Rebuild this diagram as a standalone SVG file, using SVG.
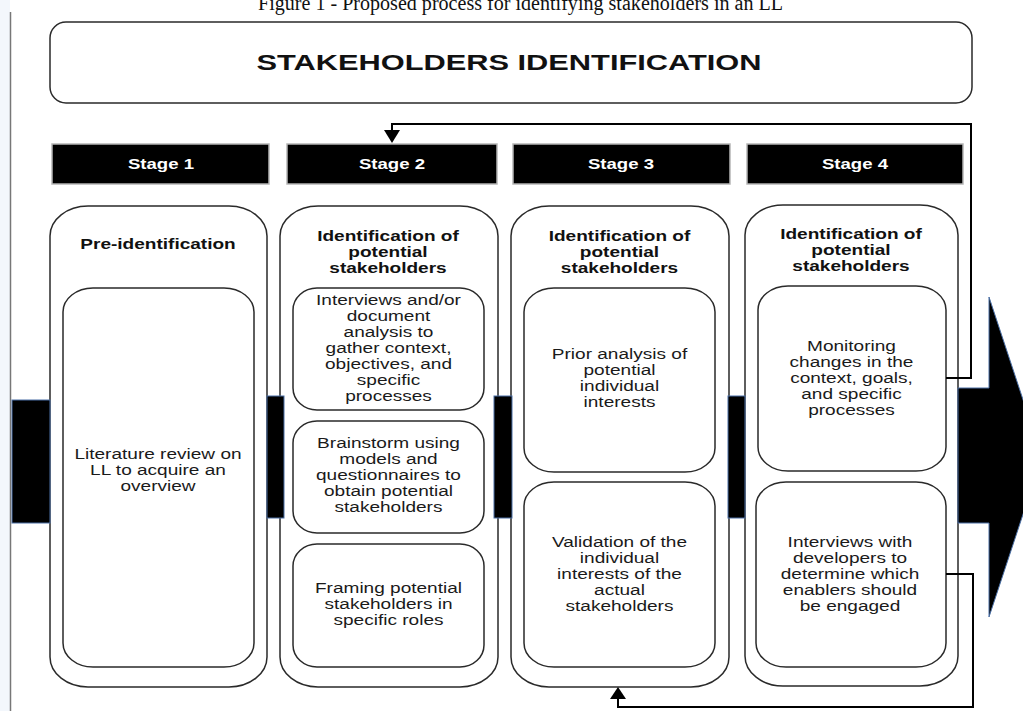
<svg xmlns="http://www.w3.org/2000/svg" width="1023" height="711" viewBox="0 0 1023 711">
  <style>
    text { font-family: "Liberation Sans", Arial, sans-serif; text-anchor: middle; }
    .cap { font-family: "Liberation Serif", "Times New Roman", serif; font-size: 20px; fill: #111; text-anchor: start; }
    .title { font-size: 22px; font-weight: bold; fill: #111; }
    .st { font-size: 15px; font-weight: bold; fill: #fff; }
    .h { font-size: 15px; font-weight: bold; fill: #111; }
    .b { font-size: 15px; fill: #1a1a1a; }
    .col { fill: #fff; stroke: #2a2a2a; stroke-width: 1.5; }
    .box { fill: #fff; stroke: #2a2a2a; stroke-width: 1.5; }
    .stage { fill: #000; stroke: #b5b5b5; stroke-width: 1.5; }
    .band { fill: #000; stroke: #4a6fa5; stroke-width: 1; }
    .link { fill: none; stroke: #000; stroke-width: 2; }
    .tip { fill: #000; }
  </style>

  <!-- page background and margin rule -->
  <rect x="0" y="0" width="1023" height="711" fill="#fff"/>
  <rect x="0" y="0" width="10" height="711" fill="#f3f7fc"/>
  <line x1="10.5" y1="12" x2="10.5" y2="711" stroke="#777" stroke-width="1.5"/>

  <!-- figure caption (partly above the page edge) -->
  <text class="cap" x="258" y="10" textLength="525" lengthAdjust="spacingAndGlyphs">Figure 1 - Proposed process for identifying stakeholders in an LL</text>

  <!-- header -->
  <g id="header">
    <rect x="50" y="22" width="922" height="81" rx="16" ry="16" class="box"/>
    <text class="title" x="509" y="70" textLength="505" lengthAdjust="spacingAndGlyphs">STAKEHOLDERS IDENTIFICATION</text>
  </g>

  <!-- stage labels -->
  <g id="stage1">
    <rect class="stage" x="52" y="144" width="217" height="40"/>
    <g transform="translate(161 0) scale(1.24 1)"><text class="st" x="0" y="169">Stage 1</text></g>
  </g>
  <g id="stage2">
    <rect class="stage" x="287" y="144" width="210" height="40"/>
    <g transform="translate(392 0) scale(1.24 1)"><text class="st" x="0" y="169">Stage 2</text></g>
  </g>
  <g id="stage3">
    <rect class="stage" x="513" y="144" width="217" height="40"/>
    <g transform="translate(621 0) scale(1.24 1)"><text class="st" x="0" y="169">Stage 3</text></g>
  </g>
  <g id="stage4">
    <rect class="stage" x="747" y="144" width="216" height="40"/>
    <g transform="translate(855 0) scale(1.24 1)"><text class="st" x="0" y="169">Stage 4</text></g>
  </g>

  <!-- column 1 -->
  <g id="col1">
    <rect class="col" x="50" y="206" width="217" height="481" rx="38" ry="30"/>
    <g transform="translate(158 0) scale(1.27 1)">
      <text class="h" x="0" y="249">Pre-identification</text>
    </g>
    <g id="col1-review">
      <rect class="box" x="63" y="288" width="191" height="379" rx="30" ry="24"/>
      <g transform="translate(158 0) scale(1.27 1)">
        <text class="b" x="0" y="459">Literature review on</text>
        <text class="b" x="0" y="475">LL to acquire an</text>
        <text class="b" x="0" y="491">overview</text>
      </g>
    </g>
  </g>

  <!-- column 2 -->
  <g id="col2">
    <rect class="col" x="280" y="206" width="218" height="481" rx="38" ry="30"/>
    <g transform="translate(388 0) scale(1.27 1)">
      <text class="h" x="0" y="241">Identification of</text>
      <text class="h" x="0" y="257">potential</text>
      <text class="h" x="0" y="273">stakeholders</text>
    </g>
    <g id="col2-interviews">
      <rect class="box" x="293" y="288" width="191" height="122" rx="24" ry="22"/>
      <g transform="translate(388.5 0) scale(1.27 1)">
        <text class="b" x="0" y="305">Interviews and/or</text>
        <text class="b" x="0" y="321">document</text>
        <text class="b" x="0" y="337">analysis to</text>
        <text class="b" x="0" y="353">gather context,</text>
        <text class="b" x="0" y="369">objectives, and</text>
        <text class="b" x="0" y="385">specific</text>
        <text class="b" x="0" y="401">processes</text>
      </g>
    </g>
    <g id="col2-brainstorm">
      <rect class="box" x="293" y="421" width="191" height="112" rx="24" ry="22"/>
      <g transform="translate(388.5 0) scale(1.27 1)">
        <text class="b" x="0" y="448">Brainstorm using</text>
        <text class="b" x="0" y="464">models and</text>
        <text class="b" x="0" y="480">questionnaires to</text>
        <text class="b" x="0" y="496">obtain potential</text>
        <text class="b" x="0" y="512">stakeholders</text>
      </g>
    </g>
    <g id="col2-framing">
      <rect class="box" x="293" y="544" width="191" height="123" rx="24" ry="22"/>
      <g transform="translate(388.5 0) scale(1.27 1)">
        <text class="b" x="0" y="593">Framing potential</text>
        <text class="b" x="0" y="609">stakeholders in</text>
        <text class="b" x="0" y="625">specific roles</text>
      </g>
    </g>
  </g>

  <!-- column 3 -->
  <g id="col3">
    <rect class="col" x="511" y="206" width="218" height="481" rx="38" ry="30"/>
    <g transform="translate(619.5 0) scale(1.27 1)">
      <text class="h" x="0" y="241">Identification of</text>
      <text class="h" x="0" y="257">potential</text>
      <text class="h" x="0" y="273">stakeholders</text>
    </g>
    <g id="col3-prior">
      <rect class="box" x="524" y="288" width="191" height="184" rx="30" ry="24"/>
      <g transform="translate(619.5 0) scale(1.27 1)">
        <text class="b" x="0" y="359">Prior analysis of</text>
        <text class="b" x="0" y="375">potential</text>
        <text class="b" x="0" y="391">individual</text>
        <text class="b" x="0" y="407">interests</text>
      </g>
    </g>
    <g id="col3-validation">
      <rect class="box" x="524" y="482" width="191" height="185" rx="30" ry="24"/>
      <g transform="translate(619.5 0) scale(1.27 1)">
        <text class="b" x="0" y="547">Validation of the</text>
        <text class="b" x="0" y="563">individual</text>
        <text class="b" x="0" y="579">interests of the</text>
        <text class="b" x="0" y="595">actual</text>
        <text class="b" x="0" y="611">stakeholders</text>
      </g>
    </g>
  </g>

  <!-- column 4 -->
  <g id="col4">
    <rect class="col" x="745" y="205" width="213" height="481" rx="38" ry="30"/>
    <g transform="translate(851 0) scale(1.27 1)">
      <text class="h" x="0" y="239">Identification of</text>
      <text class="h" x="0" y="255">potential</text>
      <text class="h" x="0" y="271">stakeholders</text>
    </g>
    <g id="col4-monitoring">
      <rect class="box" x="758" y="286" width="188" height="185" rx="30" ry="24"/>
      <g transform="translate(851.5 0) scale(1.27 1)">
        <text class="b" x="0" y="351">Monitoring</text>
        <text class="b" x="0" y="367">changes in the</text>
        <text class="b" x="0" y="383">context, goals,</text>
        <text class="b" x="0" y="399">and specific</text>
        <text class="b" x="0" y="415">processes</text>
      </g>
    </g>
    <g id="col4-interviews">
      <rect class="box" x="756" y="482" width="190" height="185" rx="30" ry="24"/>
      <g transform="translate(850 0) scale(1.27 1)">
        <text class="b" x="0" y="547">Interviews with</text>
        <text class="b" x="0" y="563">developers to</text>
        <text class="b" x="0" y="579">determine which</text>
        <text class="b" x="0" y="595">enablers should</text>
        <text class="b" x="0" y="611">be engaged</text>
      </g>
    </g>
  </g>

  <!-- process arrow running behind the columns -->
  <g id="flow-arrow">
    <rect class="band" x="12" y="400" width="38" height="123"/>
    <rect class="band" x="267" y="396" width="17" height="122"/>
    <rect class="band" x="494" y="396" width="18" height="122"/>
    <rect class="band" x="728" y="396" width="17" height="122"/>
    <polygon class="band" points="958,388 989,388 989,297 1042,457 989,617 989,523 958,523"/>
  </g>

  <!-- feedback connectors -->
  <g id="connectors">
    <polyline class="link" points="946,378 971,378 971,124 392,124 392,132"/>
    <polygon class="tip" points="384,130 400,130 392,143"/>
    <polyline class="link" points="946,574 973,574 973,707 618,707 618,697"/>
    <polygon class="tip" points="610,699 626,699 618,687"/>
  </g>
</svg>
